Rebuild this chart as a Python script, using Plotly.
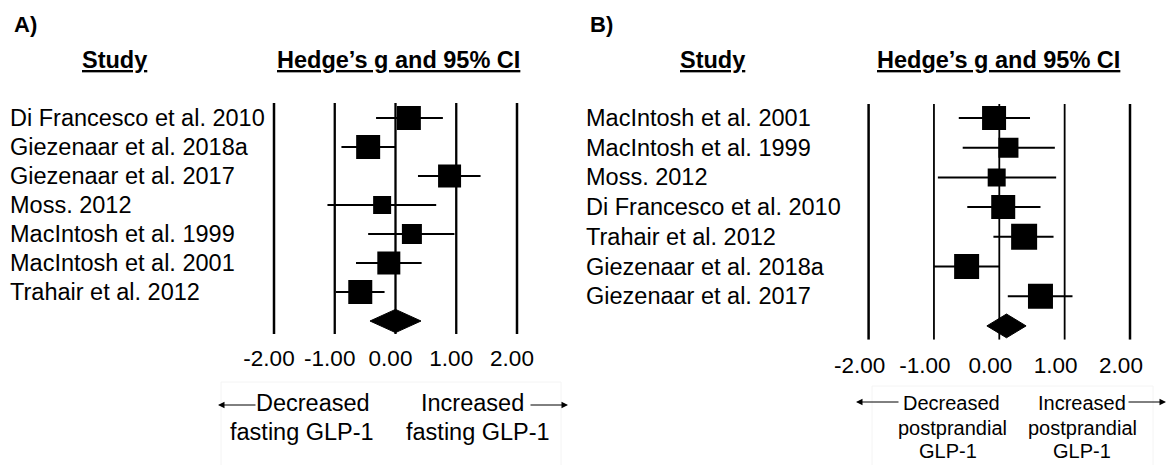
import plotly.graph_objects as go

# ---- dane ----
studies_a = ["Di Francesco et al. 2010", "Giezenaar et al. 2018a", "Giezenaar et al. 2017",
             "Moss. 2012", "MacIntosh et al. 1999", "MacIntosh et al. 2001", "Trahair et al. 2012"]
g_a = [0.22, -0.45, 0.89, -0.22, 0.27, -0.11, -0.58]
lo_a = [-0.32, -0.89, 0.37, -1.12, -0.45, -0.65, -0.98]
hi_a = [0.78, 0.00, 1.40, 0.67, 0.97, 0.43, -0.18]
pooled_a = [-0.42, 0.00, 0.42]  # dolna granica, estymata, górna granica

studies_b = ["MacIntosh et al. 2001", "MacIntosh et al. 1999", "Moss. 2012",
             "Di Francesco et al. 2010", "Trahair et al. 2012", "Giezenaar et al. 2018a",
             "Giezenaar et al. 2017"]
g_b = [-0.08, 0.14, -0.04, 0.06, 0.38, -0.50, 0.63]
lo_b = [-0.62, -0.56, -0.94, -0.49, -0.09, -1.00, 0.13]
hi_b = [0.47, 0.85, 0.87, 0.63, 0.83, 0.00, 1.12]
pooled_b = [-0.19, 0.11, 0.41]

grid_x = [-2, -1, 0, 1, 2]
tick_text = ["-2.00", "-1.00", "0.00", "1.00", "2.00"]

# rozmiary kwadratów (waga badania, px)
sq_size_a = [24, 24, 23, 18, 20, 23, 24]
sq_size_b = [24, 20, 18, 24, 26, 25, 25]

# strona ma domyślny margines 8 px - figura zaczyna się w (8, 8) i sięga do krawędzi okna
OFF = 8
W, H = 1174 - OFF, 465 - OFF
FONT = "Liberation Sans, Arial, sans-serif"
FS = 23.5


def px_x(x):
    return (x - OFF) / W


def px_y(y):
    return 1 - (y - OFF) / H


def add_panel(fig, n, g, lo, hi, pooled, sizes, xa, ya, line_top, line_bottom, outer_w, inner_w):
    # pionowe linie odniesienia
    for gx in grid_x:
        fig.add_trace(go.Scatter(
            x=[gx, gx], y=[line_top, line_bottom], mode="lines",
            line=dict(color="black", width=outer_w if gx in (-2, 2) else inner_w),
            xaxis=xa, yaxis=ya, showlegend=False, hoverinfo="skip"
        ))
    rows = list(range(n))
    fig.add_trace(go.Scatter(
        x=g, y=rows, mode="markers",
        marker=dict(symbol="square", size=sizes, color="black", opacity=1,
                    line=dict(width=0)),
        error_x=dict(type="data", symmetric=False,
                     array=[h - v for h, v in zip(hi, g)],
                     arrayminus=[v - l for v, l in zip(g, lo)],
                     color="black", thickness=2, width=0),
        xaxis=xa, yaxis=ya, showlegend=False
    ))
    # romb efektu łącznego
    dh = 0.4
    fig.add_trace(go.Scatter(
        x=[pooled[0], pooled[1], pooled[2], pooled[1], pooled[0]],
        y=[n, n - dh, n, n + dh, n],
        mode="lines", fill="toself", fillcolor="black",
        line=dict(color="black", width=1),
        xaxis=xa, yaxis=ya, showlegend=False
    ))


fig = go.Figure()
add_panel(fig, len(studies_a), g_a, lo_a, hi_a, pooled_a, sq_size_a, "x", "y",
          -0.52, 7.45, 2.5, 2.3)
add_panel(fig, len(studies_b), g_b, lo_b, hi_b, pooled_b, sq_size_b, "x2", "y2",
          -0.47, 7.47, 2.5, 1.8)

# geometria paneli w pikselach (współrzędne okna)
A_ZERO, A_UNIT, A_ROW0, A_STEP = 395.5, 60.75, 118, 29.0
B_ZERO, B_UNIT, B_ROW0, B_STEP = 999.3, 65.35, 118, 29.7
R = 2.2


def xaxis_cfg(zero, unit, anchor, ticklen, shift):
    return dict(
        domain=[px_x(zero - R * unit), px_x(zero + R * unit)],
        range=[-R, R], showgrid=False, zeroline=False, showline=False,
        tickvals=grid_x, ticktext=tick_text, ticks="outside", ticklen=ticklen,
        tickcolor="rgba(0,0,0,0)", tickfont=dict(size=22.5, color="black", family=FONT),
        ticklabelshift=shift, anchor=anchor, automargin=False, fixedrange=True
    )


def yaxis_cfg(row0, step, bottom, anchor):
    top = -0.6
    return dict(
        domain=[px_y(row0 + step * bottom), px_y(row0 + step * top)],
        range=[bottom, top], showgrid=False, zeroline=False, showline=False,
        showticklabels=False, anchor=anchor, automargin=False, fixedrange=True
    )


fig.update_layout(
    width=W, height=H, autosize=False,
    margin=dict(l=0, r=0, t=0, b=0, pad=0),
    paper_bgcolor="white", plot_bgcolor="rgba(0,0,0,0)",
    font=dict(family=FONT, color="black"),
    showlegend=False,
    xaxis=xaxis_cfg(A_ZERO, A_UNIT, "y", 4, -5),
    yaxis=yaxis_cfg(A_ROW0, A_STEP, 7.45, "x"),
    xaxis2=xaxis_cfg(B_ZERO, B_UNIT, "y2", 5, -9),
    yaxis2=yaxis_cfg(B_ROW0, B_STEP, 7.47, "x2"),
)

ann = []
# etykiety badań
for i, name in enumerate(studies_a):
    ann.append(dict(x=px_x(8), y=i, xref="paper", yref="y", text=name, showarrow=False,
                    xanchor="left", yanchor="middle", font=dict(size=FS)))
for i, name in enumerate(studies_b):
    ann.append(dict(x=px_x(584), y=i, xref="paper", yref="y2", text=name, showarrow=False,
                    xanchor="left", yanchor="middle", font=dict(size=FS)))

# nagłówki
for txt, x, y in [("<b>A)</b>", 12, 25), ("<b>B)</b>", 588, 24)]:
    ann.append(dict(x=px_x(x), y=px_y(y), xref="paper", yref="paper", text=txt,
                    showarrow=False, xanchor="left", yanchor="middle", font=dict(size=22)))
for txt, x in [("<b><u>Study</u></b>", 114), ("<b><u>Hedge’s g and 95% CI</u></b>", 398),
               ("<b><u>Study</u></b>", 712), ("<b><u>Hedge’s g and 95% CI</u></b>", 998)]:
    ann.append(dict(x=px_x(x), y=px_y(60), xref="paper", yref="paper", text=txt,
                    showarrow=False, xanchor="center", yanchor="middle", font=dict(size=23.5)))

# opisy kierunku efektu (każdy wiersz osobno)
for txt, x, y, fs in [("Decreased", 313, 403, FS), ("fasting GLP-1", 302, 432, FS),
                      ("Increased", 472, 403, FS), ("fasting GLP-1", 478, 432, FS),
                      ("Decreased", 951, 403, 20), ("postprandial", 952, 428, 20),
                      ("GLP-1", 948, 451, 20),
                      ("Increased", 1082, 403, 20), ("postprandial", 1082, 428, 20),
                      ("GLP-1", 1082, 451, 20)]:
    ann.append(dict(x=px_x(x), y=px_y(y), xref="paper", yref="paper", text=txt,
                    showarrow=False, xanchor="center", yanchor="middle",
                    font=dict(size=fs)))

# strzałki (grot w x1, początek w x0; przesunięcie w pikselach)
for x0, x1, y in [(257, 218, 405), (529, 568, 405), (900, 856, 402), (1127, 1166, 402)]:
    ann.append(dict(x=px_x(x1), y=px_y(y), ax=x0 - x1, ay=0,
                    xref="paper", yref="paper", axref="pixel", ayref="pixel",
                    text="", showarrow=True, arrowhead=2, arrowsize=1.3, arrowwidth=1,
                    arrowcolor="black"))

fig.update_layout(annotations=ann)

# delikatne ramki wokół opisów
for x0, x1, y0 in [(221, 561, 382), (872, 1153, 386)]:
    fig.add_shape(type="rect", xref="paper", yref="paper",
                  x0=px_x(x0), x1=px_x(x1), y0=px_y(y0), y1=-0.05,
                  line=dict(color="#f4f4f4", width=1))

fig.write_html("out.html")
